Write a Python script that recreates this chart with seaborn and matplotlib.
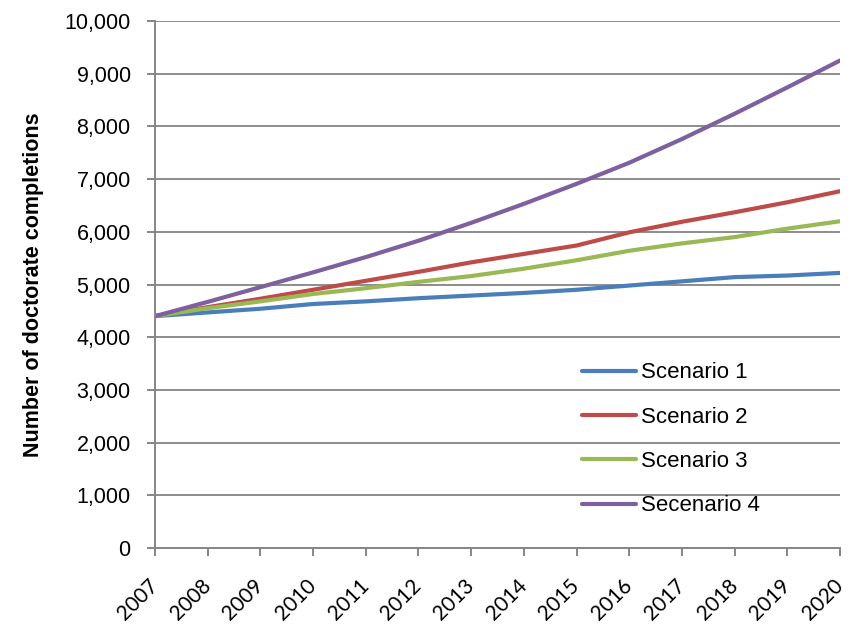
import matplotlib
matplotlib.use("Agg")
import matplotlib.pyplot as plt
import seaborn as sns
import pandas as pd
from matplotlib.ticker import FuncFormatter, MultipleLocator

years = list(range(2007, 2021))
scenario_1 = [4400, 4470, 4540, 4630, 4680, 4740, 4790, 4840, 4900, 4980, 5060, 5140, 5170, 5220]
scenario_2 = [4400, 4570, 4730, 4900, 5070, 5240, 5420, 5580, 5740, 5990, 6190, 6370, 6560, 6770]
scenario_3 = [4400, 4550, 4680, 4820, 4930, 5050, 5160, 5300, 5460, 5640, 5780, 5900, 6060, 6200]
scenario_4 = [4400, 4670, 4950, 5230, 5520, 5830, 6170, 6530, 6910, 7310, 7760, 8240, 8740, 9250]
series_names = ["Scenario 1", "Scenario 2", "Scenario 3", "Secenario 4"]
colors = ["#4A7EBB", "#BE4B48", "#98B954", "#7D60A0"]

df = pd.DataFrame({
    "year": years * 4,
    "value": scenario_1 + scenario_2 + scenario_3 + scenario_4,
    "series": sum([[n] * len(years) for n in series_names], []),
})

sns.set_theme(style="white")
plt.rcParams["font.family"] = ["Liberation Sans", "DejaVu Sans"]
plt.rcParams["text.color"] = "black"
plt.rcParams["xtick.color"] = "black"
plt.rcParams["ytick.color"] = "black"

fig = plt.figure(figsize=(8.55, 6.25), dpi=100)
ax = fig.add_axes([155 / 855, 1 - 548 / 625, 685 / 855, 527 / 625])

sns.lineplot(data=df, x="year", y="value", hue="series", palette=colors,
             linewidth=3.0, ax=ax, legend=True)

ax.set_xlim(2007, 2020)
ax.set_ylim(0, 10000)
ax.yaxis.set_major_locator(MultipleLocator(1000))
ax.yaxis.set_major_formatter(FuncFormatter(lambda v, p: f"{int(v):,}"))
ax.set_xticks(years)
ax.set_xticklabels([str(y) for y in years], rotation=45, ha="right",
                   va="center", rotation_mode="anchor", fontsize=15,
                   family=["Lato", "DejaVu Sans"])
ax.tick_params(axis="y", labelsize=15.5, length=6, width=1.4, color="#868686",
               direction="out", left=True, pad=11.5, labelcolor="black")
ax.tick_params(axis="x", length=6, width=1.4, color="#868686",
               direction="out", bottom=True, pad=19, labelcolor="black")

ax.grid(axis="y", color="#8C8C8C", linewidth=1.4)
ax.set_axisbelow(True)
for side in ["top", "right"]:
    ax.spines[side].set_visible(False)
for side in ["left", "bottom"]:
    ax.spines[side].set_color("#868686")
    ax.spines[side].set_linewidth(1.4)

ax.set_xlabel("")
ax.set_ylabel("Number of doctorate completions", fontsize=15.5, fontweight="bold",
              color="black")
ax.yaxis.set_label_coords(-0.162, 0.5)

leg = ax.legend(loc="upper left", bbox_to_anchor=(0.624, 0.352), frameon=False,
                fontsize=16, handlelength=2.4, labelspacing=1.05,
                handletextpad=0.25, borderpad=0, borderaxespad=0)
for line in leg.get_lines():
    line.set_linewidth(3.0)

fig.savefig("out.png", dpi=100)
